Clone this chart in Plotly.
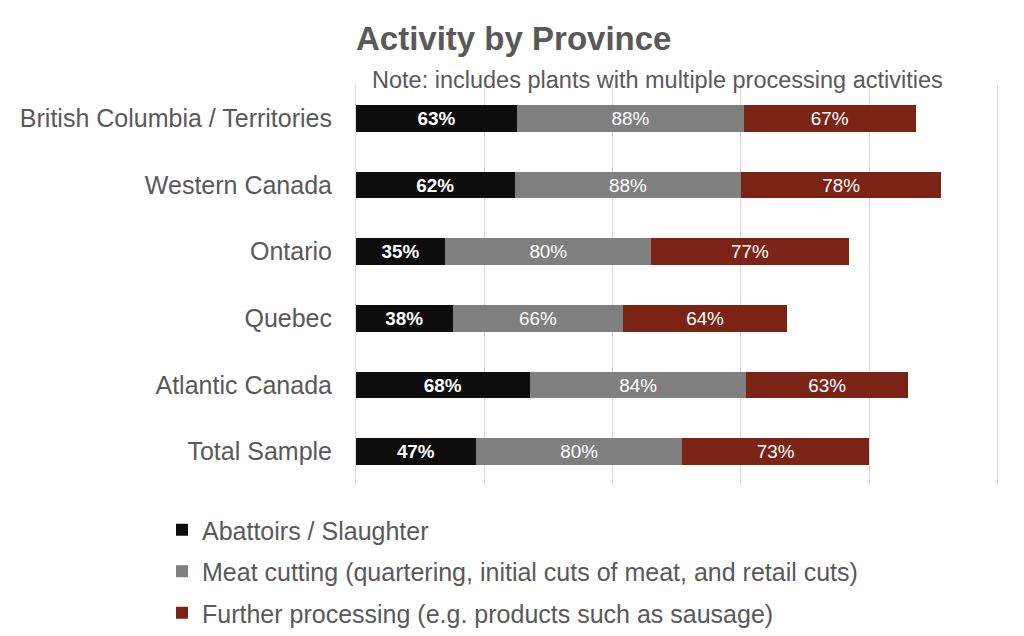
import plotly.graph_objects as go

provinces = ["British Columbia / Territories", "Western Canada", "Ontario",
             "Quebec", "Atlantic Canada", "Total Sample"]
abattoirs = [63, 62, 35, 38, 68, 47]
meat_cutting = [88, 88, 80, 66, 84, 80]
further = [67, 78, 77, 64, 63, 73]

series_names = ["Abattoirs / Slaughter",
                "Meat cutting (quartering, initial cuts of meat, and retail cuts)",
                "Further processing (e.g. products such as sausage)"]
colors = ["#0d0d0d", "#7f7f7f", "#7b2416"]

FONT = "Liberation Sans Narrow, Arial Narrow, Liberation Sans, Arial, sans-serif"

fig = go.Figure()
for i, (name, vals, col) in enumerate(zip(series_names, [abattoirs, meat_cutting, further], colors)):
    fig.add_trace(go.Bar(
        y=provinces, x=vals, name=name, orientation="h",
        marker=dict(color=col, line=dict(width=0)),
        text=[f"<b>{v}%</b>" if i == 0 else f"{v}%" for v in vals],
        textposition="inside", insidetextanchor="middle",
        textfont=dict(color="white", size=21, family=FONT),
        width=0.4, legendgroup=str(i),
    ))

# the page puts the figure 8px in from the top-left corner
fig.update_layout(
    barmode="stack",
    width=1024, height=636,
    margin=dict(l=347, r=33, t=77, b=159, autoexpand=False),
    plot_bgcolor="white", paper_bgcolor="white",
    font=dict(family=FONT, color="#595959"),
    title=dict(text="<b>Activity by Province</b>", x=348 / 1024, xanchor="left",
               y=1 - 30 / 636, yanchor="middle",
               font=dict(size=33, color="#595959", family=FONT)),
    xaxis=dict(range=[-0.2, 250.4], dtick=50, showticklabels=False, showgrid=True,
               gridcolor="#d9d9d9", gridwidth=1, zeroline=True,
               zerolinecolor="#d9d9d9", zerolinewidth=1, fixedrange=True,
               automargin=False),
    yaxis=dict(autorange="reversed", tickfont=dict(size=25, color="#595959"),
               ticks="", ticklabelstandoff=22, automargin=False),
    legend=dict(orientation="v", x=(162 - 355) / 644, xanchor="left",
                y=-22 / 400, yanchor="top",
                font=dict(size=25, color="#595959"), tracegroupgap=6,
                itemwidth=30),
    showlegend=True,
    annotations=[dict(text="Note: includes plants with multiple processing activities",
                      x=(657 - 355) / 644, xref="paper", y=1 + 5 / 400, yref="paper",
                      yanchor="middle", showarrow=False,
                      font=dict(size=23.5, color="#595959"))],
)
fig.write_html("out.html")
